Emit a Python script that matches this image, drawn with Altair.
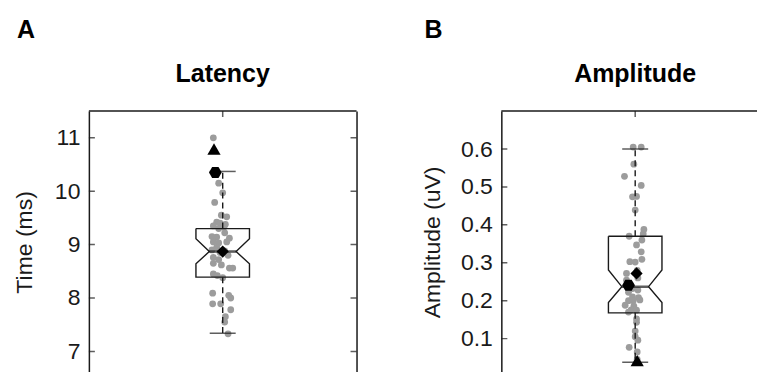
import altair as alt
import pandas as pd

FONT = "Liberation Sans"
GRAY = "#9c9c9c"
INK = "#1a1a1a"
HEX = "M-1,0L-0.5,-0.866L0.5,-0.866L1,0L0.5,0.866L-0.5,0.866Z"

# ---------------- Panel A: Latency ----------------
lat_vals = [11.0, 10.15, 9.97, 9.79, 9.52, 9.55, 9.42, 9.40, 9.38, 9.35, 9.33, 9.30, 9.22,
            9.15, 9.14, 9.12, 9.05, 9.03, 9.05, 8.95, 8.90, 8.88, 8.85, 8.80,
            8.76, 8.72, 8.65, 8.62, 8.56, 8.56, 8.45, 8.42, 8.38,
            8.09, 8.05, 8.00, 7.89, 7.89, 7.78, 7.65, 7.55, 7.33]
lat_jit = [-0.07, -0.03, 0.0, -0.06, 0.03, -0.01, -0.045, -0.02, 0.02, -0.07, 0.01, -0.03, 0.015,
           -0.08, -0.045, 0.05, -0.07, -0.03, 0.03, -0.045, -0.08, 0.015, -0.02, 0.04,
           -0.07, -0.03, -0.07, -0.01, 0.05, 0.075, -0.07, -0.04, 0.0,
           -0.075, 0.045, 0.06, -0.075, -0.015, 0.06, 0.02, 0.015, 0.04]
lat_stats = {"q1": 8.39, "med": 8.87, "q3": 9.30, "nlo": 8.64, "nhi": 9.11, "wlo": 7.34, "whi": 10.37}
lat_mark_kind = ["tri", "hex", "dia"]
lat_mark_val = [10.79, 10.35, 8.87]
lat_mark_x = [-0.065, -0.055, 0.0]
lat_ticks = [7, 8, 9, 10, 11]
lat_domain = [6.6, 11.5]

# ---------------- Panel B: Amplitude ----------------
amp_vals = [0.605, 0.605, 0.56, 0.528, 0.504, 0.474, 0.475, 0.439,
            0.388, 0.376, 0.37, 0.36, 0.347, 0.329, 0.309, 0.303, 0.302,
            0.272, 0.28, 0.26, 0.254, 0.24, 0.232, 0.228, 0.222, 0.21, 0.208,
            0.20, 0.20, 0.202, 0.188, 0.186, 0.176, 0.175, 0.17,
            0.152, 0.143, 0.12, 0.105, 0.096, 0.077, 0.065, 0.045]
amp_jit = [-0.015, 0.045, -0.01, -0.08, 0.045, -0.02, 0.01, 0.0,
           0.065, 0.06, -0.045, 0.05, 0.01, 0.045, 0.05, -0.04, 0.0,
           -0.065, 0.015, 0.02, -0.065, -0.03, -0.02, 0.02, -0.05, -0.02, 0.025,
           -0.05, -0.015, 0.035, -0.075, -0.01, -0.03, 0.01, -0.05,
           0.01, 0.01, 0.0, 0.0, 0.02, -0.045, 0.015, 0.015]
amp_stats = {"q1": 0.168, "med": 0.237, "q3": 0.37, "nlo": 0.195, "nhi": 0.281, "wlo": 0.038, "whi": 0.60}
amp_mark_kind = ["tri", "hex", "dia"]
amp_mark_val = [0.042, 0.241, 0.272]
amp_mark_x = [0.015, -0.05, 0.01]
amp_ticks = [0.1, 0.2, 0.3, 0.4, 0.5, 0.6]
amp_domain = [0.01, 0.70]

BOX_W = 0.2      # half width of box (x units)


def panel(vals, jit, st, mk, mv, mx, ticks, dom, title, ytitle, label, width, xmax, right_frame,
          label_dx, ytitle_pad):
    xs = alt.Scale(domain=[-1, xmax], nice=False, zero=False)
    ys = alt.Scale(domain=dom, nice=False, zero=False)
    H = 262

    def X(f="x:Q"):
        return alt.X(f, scale=xs, axis=None)

    def Y(f="v:Q"):
        return alt.Y(f, scale=ys, axis=None)

    pts = alt.Chart(pd.DataFrame({"x": jit, "v": vals})).mark_circle(
        size=46, color=GRAY, opacity=1
    ).encode(
        x=X(),
        y=alt.Y("v:Q", scale=ys, axis=alt.Axis(orient="left", values=ticks, ticks=False, grid=False,
                                               domain=True, title=ytitle, labelPadding=9,
                                               titlePadding=ytitle_pad)),
    )

    # top frame line along the upper end of the y domain
    top = alt.Chart(pd.DataFrame({"a": [-1], "b": [xmax], "v": [dom[1]]})).mark_rule(
        color=INK, strokeWidth=1.5
    ).encode(x=X("a:Q"), x2="b:Q", y=Y())

    # notched box outline
    w, n = BOX_W, BOX_W / 2
    poly = pd.DataFrame({
        "x": [-w, w, w, n, w, w, -w, -w, -n, -w, -w],
        "v": [st["q3"], st["q3"], st["nhi"], st["med"], st["nlo"], st["q1"], st["q1"],
              st["nlo"], st["med"], st["nhi"], st["q3"]],
        "o": list(range(11)),
    })
    box = alt.Chart(poly).mark_line(color=INK, strokeWidth=1.4).encode(
        x=X(), y=Y(), order="o:Q",
    )

    wh = pd.DataFrame({"x": [0, 0], "a": [st["q3"], st["q1"]], "b": [st["whi"], st["wlo"]]})
    whisk = alt.Chart(wh).mark_rule(color=INK, strokeWidth=1.4, strokeDash=[6, 4]).encode(
        x=X(), y=Y("a:Q"), y2="b:Q",
    )

    caps = alt.Chart(pd.DataFrame({"x": [0, 0], "v": [st["wlo"], st["whi"]]})).mark_tick(
        orient="horizontal", color=INK, size=26, thickness=1.5
    ).encode(x=X(), y=Y())

    med = alt.Chart(pd.DataFrame({"x": [0], "v": [st["med"]]})).mark_tick(
        orient="horizontal", color=INK, size=27, thickness=2.6
    ).encode(x=X(), y=Y())

    marks = alt.Chart(pd.DataFrame({"k": mk, "v": mv, "x": mx})).mark_point(
        filled=True, color="black", opacity=1, strokeWidth=0
    ).encode(
        x=X(), y=Y(),
        shape=alt.Shape("k:N", scale=alt.Scale(domain=["tri", "hex", "dia"],
                                               range=["triangle-up", HEX, "diamond"]), legend=None),
        size=alt.Size("k:N", scale=alt.Scale(domain=["tri", "hex", "dia"], range=[175, 150, 105]),
                      legend=None),
    )

    lt = alt.Chart(pd.DataFrame({"x": [-1] * len(ticks), "v": ticks})).mark_tick(
        orient="horizontal", color=INK, size=12, thickness=1.5, clip=True
    ).encode(x=X(), y=Y())

    layers = [pts, whisk, box, caps, med, marks, lt, top]

    if right_frame:
        rt = alt.Chart(pd.DataFrame({"x": [xmax] * len(ticks), "v": ticks})).mark_tick(
            orient="horizontal", color=INK, size=12, thickness=1.5, clip=True
        ).encode(
            x=X(),
            y=alt.Y("v:Q", scale=ys, axis=alt.Axis(orient="right", labels=False, ticks=False,
                                                   grid=False, domain=True, title=None)),
        )
        layers.append(rt)

    tt = alt.Chart(pd.DataFrame({"x": [0], "v": [dom[1]]})).mark_tick(
        orient="vertical", color=INK, size=12, thickness=1.5, clip=True
    ).encode(x=X(), y=Y())
    layers.append(tt)

    lab = alt.Chart(pd.DataFrame({"t": [label]})).mark_text(
        font=FONT, fontSize=25, fontWeight="bold", align="left", baseline="alphabetic", color="black"
    ).encode(text="t:N", x=alt.value(label_dx), y=alt.value(-73))
    layers.append(lab)

    ttl = alt.Chart(pd.DataFrame({"t": [title]})).mark_text(
        font=FONT, fontSize=25, fontWeight="bold", align="center", baseline="alphabetic", color="black"
    ).encode(text="t:N", x=alt.value(134), y=alt.value(-29))
    layers.append(ttl)

    return alt.layer(*layers).resolve_axis(y="independent").properties(width=width, height=H)


pa = panel(lat_vals, lat_jit, lat_stats, lat_mark_kind, lat_mark_val, lat_mark_x, lat_ticks,
           lat_domain, "Latency", "Time (ms)", "A", 268, 1.0, True, -72, 18)
pb = panel(amp_vals, amp_jit, amp_stats, amp_mark_kind, amp_mark_val, amp_mark_x, amp_ticks,
           amp_domain, "Amplitude", "Amplitude (uV)", "B", 256, 0.91, False, -77, 16)

chart = alt.hconcat(pa, pb, spacing=145, bounds="flush").properties(
    padding={"left": 13, "top": 18, "right": 0, "bottom": 0},
    background="white",
).configure_view(strokeWidth=0).configure_axis(
    domainColor=INK, domainWidth=1.5, labelColor=INK, titleColor=INK,
    labelFont=FONT, titleFont=FONT, labelFontSize=23, titleFontSize=23,
    titleFontWeight="normal",
)

chart.save("out.html", embed_options={"renderer": "svg", "actions": False})
